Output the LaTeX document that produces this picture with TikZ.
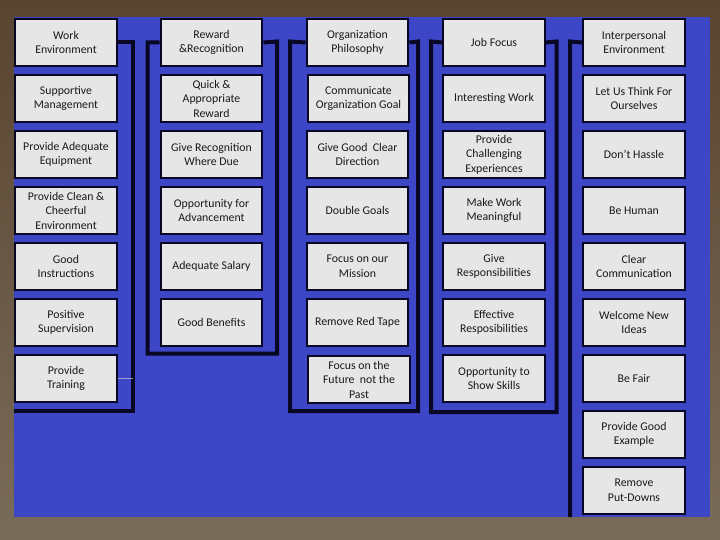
\documentclass[tikz,border=0pt]{standalone}
\usepackage{fontspec}
\setmainfont{Carlito}
\definecolor{stoneTop}{RGB}{88,68,48}
\definecolor{stoneBot}{RGB}{122,108,90}
\definecolor{panel}{RGB}{62,70,200}
\definecolor{boxfill}{RGB}{230,230,230}
\definecolor{inkline}{RGB}{8,8,36}
\definecolor{txt}{RGB}{25,25,25}
\tikzset{
  cbox/.style={draw=inkline, line width=2.4pt, fill=boxfill, minimum width=101.5pt,
    minimum height=46.5pt, inner sep=0pt, align=center, text=txt,
    font=\fontsize{11.8}{14.5}\selectfont},
  bracket/.style={draw=inkline, line width=4pt, line join=miter},
  faint/.style={draw=gray!45, line width=0.5pt, opacity=0.7}
}
\begin{document}
\begin{tikzpicture}[x=1pt,y=-1pt]
\useasboundingbox (0,0) rectangle (720,540);
\shade[top color=stoneTop, bottom color=stoneBot] (0,0) rectangle (720,540);
\fill[panel] (14,17) rectangle (710,517);

% column 1
\node[cbox] (a1) at (66,42.5) {Work\\Environment};
\node[cbox] (a2) at (66,98.5) {Supportive\\Management};
\node[cbox] (a3) at (66,154.5) {Provide Adequate\\Equipment};
\node[cbox] (a4) at (66,210.5) {Provide Clean \&\\Cheerful\\Environment};
\node[cbox] (a5) at (66,266.5) {Good\\Instructions};
\node[cbox] (a6) at (66,322.5) {Positive\\Supervision};
\node[cbox] (a7) at (66,378.5) {Provide\\Training};

% column 2
\node[cbox] (b1) at (211.5,42.5) {Reward\\\&Recognition};
\node[cbox] (b2) at (211.5,98.5) {Quick \&\\Appropriate\\Reward};
\node[cbox] (b3) at (211.5,154.5) {Give Recognition\\Where Due};
\node[cbox] (b4) at (211.5,210.5) {Opportunity for\\Advancement};
\node[cbox] (b5) at (211.5,266.5) {Adequate Salary};
\node[cbox] (b6) at (211.5,322.5) {Good Benefits};

% column 3
\node[cbox] (c1) at (357.5,42.5) {Organization\\Philosophy};
\node[cbox] (c2) at (358.5,98.5) {Communicate\\Organization Goal};
\node[cbox] (c3) at (357.5,154.5) {Give Good\ \ Clear\\Direction};
\node[cbox] (c4) at (357.5,210.5) {Double Goals};
\node[cbox] (c5) at (357.5,266.5) {Focus on our\\Mission};
\node[cbox] (c6) at (357.5,322.5) {Remove Red Tape};
\node[cbox] (c7) at (359,379.5) {Focus on the\\Future\ \ not the\\Past};

% column 4
\node[cbox] (d1) at (494,42.5) {Job Focus};
\node[cbox] (d2) at (494,98.5) {Interesting Work};
\node[cbox] (d3) at (494,154.5) {Provide\\Challenging\\Experiences};
\node[cbox] (d4) at (494,210.5) {Make Work\\Meaningful};
\node[cbox] (d5) at (494,266.5) {Give\\Responsibilities};
\node[cbox] (d6) at (494,322.5) {Effective\\Resposibilities};
\node[cbox] (d7) at (494,378.5) {Opportunity to\\Show Skills};

% column 5
\node[cbox] (e1) at (634,42.5) {Interpersonal\\Environment};
\node[cbox] (e2) at (634,98.5) {Let Us Think For\\Ourselves};
\node[cbox] (e3) at (634,154.5) {Don't Hassle};
\node[cbox] (e4) at (634,210.5) {Be Human};
\node[cbox] (e5) at (634,266.5) {Clear\\Communication};
\node[cbox] (e6) at (634,322.5) {Welcome New\\Ideas};
\node[cbox] (e7) at (634,378.5) {Be Fair};
\node[cbox] (e8) at (634,434.5) {Provide Good\\Example};
\node[cbox] (e9) at (634,490.5) {Remove\\Put-Downs};

% free ends of the brackets
\coordinate (aEnd) at (14,410.5);
\coordinate (eEnd) at (570,517);

% brackets
\draw[bracket] (a1.east) -- (133,42.5) -- (133,410.5) -- (aEnd);
\draw[faint] (a7.east) -- (133,378.5);
\draw[bracket] (b1.west) -- (147.5,42.5) -- (147.5,353.5) -- (277,353.5) -- (277,41.5) -- (b1.east);
\draw[bracket] (c1.west) -- (290,41.5) -- (290,411) -- (418,411) -- (418,41.5) -- (c1.east);
\draw[bracket] (d1.west) -- (431,41.5) -- (431,412) -- (556.5,412) -- (556.5,41.5) -- (d1.east);
\draw[bracket] (e1.west) -- (570,41.5) -- (eEnd);
\end{tikzpicture}
\end{document}
